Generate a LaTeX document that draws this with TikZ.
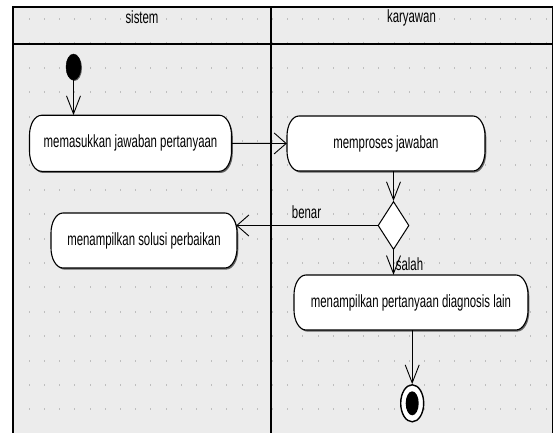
\documentclass[tikz,border=0pt]{standalone}
\usepackage{fontspec}
\setmainfont{Liberation Sans}
\usepackage{graphicx}
\usetikzlibrary{arrows.meta,shapes.geometric}

\definecolor{lanebg}{RGB}{236,236,236}
\definecolor{griddot}{RGB}{190,190,190}
\definecolor{boxshade}{RGB}{100,100,100}

% tall, narrow lettering used throughout the diagram
\newcommand{\tallText}[1]{\scalebox{1}[1.55]{#1}}

% action state: rounded box with a soft drop shadow, then its label node
% #1 name, #2 x, #3 y, #4 width, #5 height, #6 text
\newcommand{\actbox}[6]{%
  \begin{scope}[shift={(#2,#3)}]
    \pgfmathsetmacro{\abW}{#4/2}%
    \pgfmathsetmacro{\abH}{#5/2}%
    \draw[boxline]
      (-\abW+12,\abH) -- (\abW-12,\abH)
      arc[start angle=90,end angle=0,x radius=12,y radius=20]
      -- (\abW,-\abH+20)
      arc[start angle=0,end angle=-90,x radius=12,y radius=20]
      -- (-\abW+12,-\abH)
      arc[start angle=270,end angle=180,x radius=12,y radius=20]
      -- (-\abW,\abH-20)
      arc[start angle=180,end angle=90,x radius=12,y radius=20]
      -- cycle;
  \end{scope}
  \node[acttext,minimum width=#4pt,minimum height=#5pt] (#1) at (#2,#3) {\tallText{#6}};
}

\tikzset{
  boxline/.style={draw=black,line width=1.1pt,fill=white,
    preaction={fill=boxshade,transform canvas={shift={(1.3pt,-1.6pt)}}}},
  acttext/.style={inner sep=0pt,font=\fontsize{11.4}{13}\selectfont},
  plaintext/.style={inner sep=0pt,font=\fontsize{11.4}{13}\selectfont},
  flow/.style={draw=black,line width=0.9pt},
  harr/.style={flow,-{Straight Barb[length=12pt,width=21pt]}},
  varr/.style={flow,-{Straight Barb[length=18pt,width=14pt]}},
  laneline/.style={draw=black,line width=1.2pt},
}

\begin{document}
\begin{tikzpicture}[x=1pt,y=1pt]
  \useasboundingbox (0,0) rectangle (554,432);
  \clip (0,0) rectangle (554,432);
  \fill[white] (0,0) rectangle (554,432);

  % swimlane frame background
  \fill[lanebg] (13,-5) rectangle (552.5,425);

  % dotted layout grid
  \foreach \i in {0,...,34}{
    \foreach \j in {0,...,16}{
      \fill[griddot] ({29.3+15.2*\i-0.5},{432-19-24.4*\j-1}) rectangle ++(1,2);
    }
  }

  % frame, header rule and lane divider
  \draw[laneline] (13,-5) -- (13,425) -- (552.5,425) -- (552.5,-5);
  \draw[laneline] (13,388) -- (552.5,388);
  \draw[laneline] (271,-5) -- (271,425);

  \node[plaintext] (laneA) at (142,414.5) {\tallText{sistem}};
  \node[plaintext] (laneB) at (411.5,414.5) {\tallText{karyawan}};

  % initial node
  \fill[boxshade] (74.5,364) ellipse[x radius=7.5,y radius=13];
  \node[ellipse,fill=black,draw=black,inner sep=0pt,minimum width=15pt,minimum height=26pt] (start) at (73.5,365) {};

  % actions
  \actbox{a1}{130.5}{288.7}{202}{56}{memasukkan jawaban pertanyaan}
  \actbox{a2}{386}{288.5}{198}{55}{memproses jawaban}
  \actbox{a3}{144}{191.5}{186}{55}{menampilkan solusi perbaikan}
  \actbox{a4}{411}{129.5}{234}{55}{menampilkan pertanyaan diagnosis lain}

  % decision
  \node[diamond,draw=black,line width=1pt,fill=white,inner sep=0pt,
        minimum width=31pt,minimum height=48pt] (dec) at (393.5,206.5) {};

  % final node
  \node[ellipse,draw=black,line width=1.4pt,fill=white,inner sep=0pt,
        minimum width=23pt,minimum height=37pt] (fin) at (412.2,28.7) {};
  \node[ellipse,fill=black,inner sep=0pt,minimum width=13pt,minimum height=24pt] (finin) at (fin.center) {};

  % control flows
  \draw[varr] (start.south) -- (start.south |- a1.north);
  \draw[harr] (a1.east) -- (a2.west);
  \draw[varr] (dec.north |- a2.south) -- (dec.north);
  \draw[harr] (dec.west) -- ([xshift=-1pt]dec.west -| a3.east);
  \draw[varr] (dec.south) -- (dec.south |- a4.north);
  \draw[varr] (fin.north |- a4.south) -- (fin.north);

  % guards
  \node[plaintext] (benar) at (306.5,220) {\tallText{benar}};
  \node[plaintext] (salah) at (409.5,168) {\tallText{salah}};
\end{tikzpicture}
\end{document}
